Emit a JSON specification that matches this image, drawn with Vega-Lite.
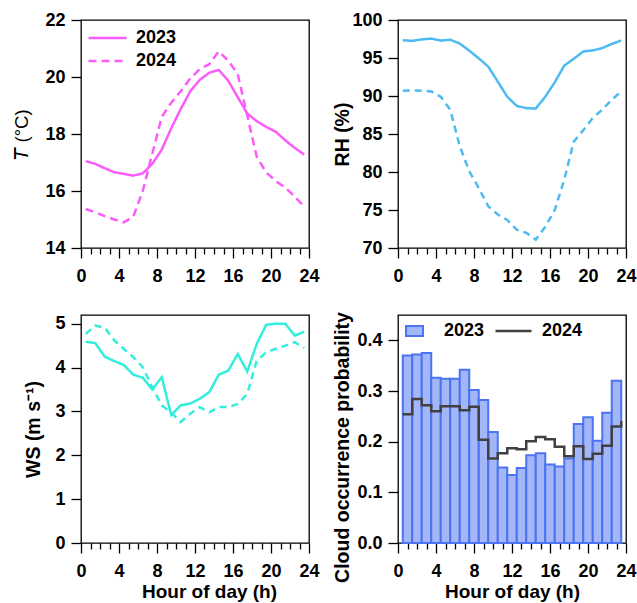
{
  "$schema": "https://vega.github.io/schema/vega-lite/v6.json",
  "background": "white",
  "padding": {"left": 11, "top": 10, "right": 0, "bottom": 0},
  "config": {
    "font": "Liberation Sans",
    "view": {"stroke": "black", "strokeWidth": 1.3},
    "axis": {
      "domain": false, "grid": false,
      "tickColor": "black", "tickWidth": 1.3, "tickSize": 10,
      "labelFont": "Liberation Sans", "labelFontSize": 18, "labelFontWeight": "bold", "labelColor": "black",
      "titleFont": "Liberation Sans", "titleFontSize": 19.5, "titleFontWeight": "bold", "titleColor": "black",
      "labelFlush": false, "labelOverlap": false
    },
    "axisY": {"labelPadding": 6},
    "legend": {"labelFont": "Liberation Sans", "labelFontSize": 18, "labelFontWeight": "bold", "labelColor": "black"}
  },
  "datasets": {
    "met": [
      {"h": 0.5, "yr": "2023", "T": 17.05, "RH": 97.33, "WS": 4.59},
      {"h": 1.5, "yr": "2023", "T": 16.95, "RH": 97.25, "WS": 4.56},
      {"h": 2.5, "yr": "2023", "T": 16.8, "RH": 97.45, "WS": 4.25},
      {"h": 3.5, "yr": "2023", "T": 16.66, "RH": 97.55, "WS": 4.15},
      {"h": 4.5, "yr": "2023", "T": 16.6, "RH": 97.3, "WS": 4.06},
      {"h": 5.5, "yr": "2023", "T": 16.54, "RH": 97.4, "WS": 3.84},
      {"h": 6.5, "yr": "2023", "T": 16.62, "RH": 96.9, "WS": 3.77},
      {"h": 7.5, "yr": "2023", "T": 16.95, "RH": 95.97, "WS": 3.5},
      {"h": 8.5, "yr": "2023", "T": 17.45, "RH": 94.96, "WS": 3.78},
      {"h": 9.5, "yr": "2023", "T": 18.2, "RH": 93.87, "WS": 2.92},
      {"h": 10.5, "yr": "2023", "T": 18.88, "RH": 91.9, "WS": 3.14},
      {"h": 11.5, "yr": "2023", "T": 19.5, "RH": 89.9, "WS": 3.18},
      {"h": 12.5, "yr": "2023", "T": 19.9, "RH": 88.7, "WS": 3.29},
      {"h": 13.5, "yr": "2023", "T": 20.15, "RH": 88.4, "WS": 3.44},
      {"h": 14.5, "yr": "2023", "T": 20.25, "RH": 88.35, "WS": 3.84},
      {"h": 15.5, "yr": "2023", "T": 19.87, "RH": 89.9, "WS": 3.93},
      {"h": 16.5, "yr": "2023", "T": 19.29, "RH": 91.8, "WS": 4.31},
      {"h": 17.5, "yr": "2023", "T": 18.72, "RH": 94.0, "WS": 3.91},
      {"h": 18.5, "yr": "2023", "T": 18.45, "RH": 94.9, "WS": 4.54},
      {"h": 19.5, "yr": "2023", "T": 18.25, "RH": 95.85, "WS": 4.98},
      {"h": 20.5, "yr": "2023", "T": 18.08, "RH": 96.0, "WS": 5.0},
      {"h": 21.5, "yr": "2023", "T": 17.78, "RH": 96.3, "WS": 5.0},
      {"h": 22.5, "yr": "2023", "T": 17.51, "RH": 96.85, "WS": 4.73},
      {"h": 23.5, "yr": "2023", "T": 17.28, "RH": 97.3, "WS": 4.82},
      {"h": 0.5, "yr": "2024", "T": 15.37, "RH": 90.7, "WS": 4.77},
      {"h": 1.5, "yr": "2024", "T": 15.25, "RH": 90.75, "WS": 4.96},
      {"h": 2.5, "yr": "2024", "T": 15.12, "RH": 90.7, "WS": 4.91},
      {"h": 3.5, "yr": "2024", "T": 15.0, "RH": 90.6, "WS": 4.62},
      {"h": 4.5, "yr": "2024", "T": 14.9, "RH": 89.9, "WS": 4.43},
      {"h": 5.5, "yr": "2024", "T": 15.1, "RH": 88.2, "WS": 4.24},
      {"h": 6.5, "yr": "2024", "T": 16.0, "RH": 83.4, "WS": 4.01},
      {"h": 7.5, "yr": "2024", "T": 17.3, "RH": 80.1, "WS": 3.55},
      {"h": 8.5, "yr": "2024", "T": 18.6, "RH": 77.9, "WS": 3.14},
      {"h": 9.5, "yr": "2024", "T": 19.1, "RH": 75.5, "WS": 2.97},
      {"h": 10.5, "yr": "2024", "T": 19.5, "RH": 74.4, "WS": 2.76},
      {"h": 11.5, "yr": "2024", "T": 19.95, "RH": 73.7, "WS": 2.95},
      {"h": 12.5, "yr": "2024", "T": 20.28, "RH": 72.4, "WS": 3.1},
      {"h": 13.5, "yr": "2024", "T": 20.45, "RH": 72.0, "WS": 2.98},
      {"h": 14.5, "yr": "2024", "T": 20.9, "RH": 71.1, "WS": 3.1},
      {"h": 15.5, "yr": "2024", "T": 20.57, "RH": 72.8, "WS": 3.1},
      {"h": 16.5, "yr": "2024", "T": 20.1, "RH": 75.0, "WS": 3.17},
      {"h": 17.5, "yr": "2024", "T": 18.65, "RH": 79.0, "WS": 3.4},
      {"h": 18.5, "yr": "2024", "T": 17.2, "RH": 84.0, "WS": 4.16},
      {"h": 19.5, "yr": "2024", "T": 16.65, "RH": 85.5, "WS": 4.35},
      {"h": 20.5, "yr": "2024", "T": 16.35, "RH": 87.1, "WS": 4.43},
      {"h": 21.5, "yr": "2024", "T": 16.12, "RH": 88.2, "WS": 4.5},
      {"h": 22.5, "yr": "2024", "T": 15.8, "RH": 89.5, "WS": 4.58},
      {"h": 23.5, "yr": "2024", "T": 15.45, "RH": 90.6, "WS": 4.45}
    ],
    "cloud": [
      {"h0": 0.5, "h1": 1.5, "p": 0.370, "yr": "2023"},
      {"h0": 1.5, "h1": 2.5, "p": 0.372, "yr": "2023"},
      {"h0": 2.5, "h1": 3.5, "p": 0.375, "yr": "2023"},
      {"h0": 3.5, "h1": 4.5, "p": 0.326, "yr": "2023"},
      {"h0": 4.5, "h1": 5.5, "p": 0.324, "yr": "2023"},
      {"h0": 5.5, "h1": 6.5, "p": 0.324, "yr": "2023"},
      {"h0": 6.5, "h1": 7.5, "p": 0.342, "yr": "2023"},
      {"h0": 7.5, "h1": 8.5, "p": 0.302, "yr": "2023"},
      {"h0": 8.5, "h1": 9.5, "p": 0.282, "yr": "2023"},
      {"h0": 9.5, "h1": 10.5, "p": 0.219, "yr": "2023"},
      {"h0": 10.5, "h1": 11.5, "p": 0.149, "yr": "2023"},
      {"h0": 11.5, "h1": 12.5, "p": 0.134, "yr": "2023"},
      {"h0": 12.5, "h1": 13.5, "p": 0.148, "yr": "2023"},
      {"h0": 13.5, "h1": 14.5, "p": 0.173, "yr": "2023"},
      {"h0": 14.5, "h1": 15.5, "p": 0.177, "yr": "2023"},
      {"h0": 15.5, "h1": 16.5, "p": 0.155, "yr": "2023"},
      {"h0": 16.5, "h1": 17.5, "p": 0.151, "yr": "2023"},
      {"h0": 17.5, "h1": 18.5, "p": 0.167, "yr": "2023"},
      {"h0": 18.5, "h1": 19.5, "p": 0.235, "yr": "2023"},
      {"h0": 19.5, "h1": 20.5, "p": 0.248, "yr": "2023"},
      {"h0": 20.5, "h1": 21.5, "p": 0.202, "yr": "2023"},
      {"h0": 21.5, "h1": 22.5, "p": 0.257, "yr": "2023"},
      {"h0": 22.5, "h1": 23.5, "p": 0.320, "yr": "2023"}
    ],
    "cloud24": [
      {"h": 0.5, "p": 0.254, "yr": "2024"},
      {"h": 1.5, "p": 0.284, "yr": "2024"},
      {"h": 2.5, "p": 0.272, "yr": "2024"},
      {"h": 3.5, "p": 0.260, "yr": "2024"},
      {"h": 4.5, "p": 0.270, "yr": "2024"},
      {"h": 5.5, "p": 0.270, "yr": "2024"},
      {"h": 6.5, "p": 0.262, "yr": "2024"},
      {"h": 7.5, "p": 0.269, "yr": "2024"},
      {"h": 8.5, "p": 0.204, "yr": "2024"},
      {"h": 9.5, "p": 0.167, "yr": "2024"},
      {"h": 10.5, "p": 0.177, "yr": "2024"},
      {"h": 11.5, "p": 0.187, "yr": "2024"},
      {"h": 12.5, "p": 0.185, "yr": "2024"},
      {"h": 13.5, "p": 0.201, "yr": "2024"},
      {"h": 14.5, "p": 0.209, "yr": "2024"},
      {"h": 15.5, "p": 0.205, "yr": "2024"},
      {"h": 16.5, "p": 0.190, "yr": "2024"},
      {"h": 17.5, "p": 0.171, "yr": "2024"},
      {"h": 18.5, "p": 0.191, "yr": "2024"},
      {"h": 19.5, "p": 0.166, "yr": "2024"},
      {"h": 20.5, "p": 0.176, "yr": "2024"},
      {"h": 21.5, "p": 0.192, "yr": "2024"},
      {"h": 22.5, "p": 0.230, "yr": "2024"},
      {"h": 23.5, "p": 0.241, "yr": "2024"}
    ]
  },
  "columns": 2,
  "spacing": {"row": 67, "column": 89},
  "bounds": "flush",
  "concat": [
    {
      "width": 228, "height": 228,
      "data": {"name": "met"},
      "mark": {"type": "line", "color": "#fb5bfb", "strokeWidth": 2.5},
      "encoding": {
        "x": {"field": "h", "type": "quantitative", "scale": {"domain": [0, 24], "nice": false, "zero": false},
          "axis": {"values": [0,1,2,3,4,5,6,7,8,9,10,11,12,13,14,15,16,17,18,19,20,21,22,23,24],
            "labelExpr": "datum.value % 4 === 0 ? datum.label : ''",
            "tickSize": {"condition": {"test": "datum.value % 4 === 0", "value": 10}, "value": 6},
            "labelPadding": 9, "title": null}},
        "y": {"field": "T", "type": "quantitative", "scale": {"domain": [14, 22], "nice": false, "zero": false},
          "axis": {"values": [14, 16, 18, 20, 22], "title": "𝘛 (°C)", "titleFontWeight": "normal", "titleFontSize": 18.5, "titleX": -60, "titleBaseline": "middle"}},
        "strokeDash": {"field": "yr", "type": "nominal", "scale": {"domain": ["2023", "2024"], "range": [[1, 0], [8, 5]]},
          "legend": {"orient": "none", "legendX": 6, "legendY": 8.5, "title": null, "symbolType": "stroke", "symbolSize": 1444,
            "symbolStrokeColor": "#fb5bfb", "symbolStrokeWidth": 2.5, "clipHeight": 19, "rowPadding": 4, "labelOffset": 8}}
      }
    },
    {
      "width": 228, "height": 228,
      "data": {"name": "met"},
      "mark": {"type": "line", "color": "#4dbaf2", "strokeWidth": 2.5},
      "encoding": {
        "x": {"field": "h", "type": "quantitative", "scale": {"domain": [0, 24], "nice": false, "zero": false},
          "axis": {"values": [0,1,2,3,4,5,6,7,8,9,10,11,12,13,14,15,16,17,18,19,20,21,22,23,24],
            "labelExpr": "datum.value % 4 === 0 ? datum.label : ''",
            "tickSize": {"condition": {"test": "datum.value % 4 === 0", "value": 10}, "value": 6},
            "labelPadding": 9, "title": null}},
        "y": {"field": "RH", "type": "quantitative", "scale": {"domain": [70, 100], "nice": false, "zero": false},
          "axis": {"values": [70, 75, 80, 85, 90, 95, 100], "title": "RH (%)", "titleX": -56, "titleBaseline": "middle"}},
        "strokeDash": {"field": "yr", "type": "nominal", "scale": {"domain": ["2023", "2024"], "range": [[1, 0], [7, 5]]}, "legend": null}
      }
    },
    {
      "width": 228, "height": 228,
      "data": {"name": "met"},
      "mark": {"type": "line", "color": "#33eedd", "strokeWidth": 2.5},
      "encoding": {
        "x": {"field": "h", "type": "quantitative", "scale": {"domain": [0, 24], "nice": false, "zero": false},
          "axis": {"values": [0,1,2,3,4,5,6,7,8,9,10,11,12,13,14,15,16,17,18,19,20,21,22,23,24],
            "labelExpr": "datum.value % 4 === 0 ? datum.label : ''",
            "tickSize": {"condition": {"test": "datum.value % 4 === 0", "value": 10}, "value": 6},
            "labelPadding": 9, "title": "Hour of day (h)", "titleFontSize": 19, "titleX": 128, "titleY": 48.5, "titleBaseline": "middle"}},
        "y": {"field": "WS", "type": "quantitative", "scale": {"domain": [0, 5.2], "nice": false, "zero": false},
          "axis": {"values": [0, 1, 2, 3, 4, 5], "title": "WS (m s⁻¹)", "titleX": -48, "titleBaseline": "middle"}},
        "strokeDash": {"field": "yr", "type": "nominal", "scale": {"domain": ["2023", "2024"], "range": [[1, 0], [7, 5]]}, "legend": null}
      }
    },
    {
      "width": 228, "height": 228,
      "layer": [
        {
          "data": {"name": "cloud"},
          "mark": {"type": "bar", "stroke": "#4b73f2", "strokeWidth": 2},
          "encoding": {
            "x": {"field": "h0", "type": "quantitative", "scale": {"domain": [0, 24], "nice": false, "zero": false},
              "axis": {"values": [0,1,2,3,4,5,6,7,8,9,10,11,12,13,14,15,16,17,18,19,20,21,22,23,24],
                "labelExpr": "datum.value % 4 === 0 ? datum.label : ''",
                "tickSize": {"condition": {"test": "datum.value % 4 === 0", "value": 10}, "value": 6},
                "labelOverlap": false,
                "labelPadding": 9, "title": "Hour of day (h)", "titleFontSize": 19, "titleX": 114, "titleY": 48.5, "titleBaseline": "middle"}},
            "x2": {"field": "h1"},
            "y": {"field": "p", "type": "quantitative", "scale": {"domain": [0, 0.45], "nice": false, "zero": false},
              "axis": {"values": [0, 0.1, 0.2, 0.3, 0.4], "format": ".1f", "title": "Cloud occurrence probability", "titleX": -56, "titleY": 132, "titleBaseline": "middle"}},
            "y2": {"datum": 0},
            "fill": {"field": "yr", "type": "nominal", "scale": {"domain": ["2023"], "range": ["#a3b6f7"]},
              "legend": {"orient": "none", "legendX": 7, "legendY": 6.5, "title": null, "symbolType": "M-1,-0.6H1V0.6H-1Z", "symbolSize": 289,
                "symbolStrokeColor": "#4b73f2", "symbolStrokeWidth": 2, "symbolFillColor": "#a3b6f7", "clipHeight": 19, "labelOffset": 20}}
          }
        },
        {
          "data": {"name": "cloud24"},
          "mark": {"type": "line", "interpolate": "step-after", "strokeWidth": 2.5},
          "encoding": {
            "x": {"field": "h", "type": "quantitative",
              "axis": {"values": [0,1,2,3,4,5,6,7,8,9,10,11,12,13,14,15,16,17,18,19,20,21,22,23,24],
                "labelExpr": "datum.value % 4 === 0 ? datum.label : ''",
                "tickSize": {"condition": {"test": "datum.value % 4 === 0", "value": 10}, "value": 6},
                "labelOverlap": false,
                "labelPadding": 9, "title": "Hour of day (h)", "titleFontSize": 19, "titleX": 114, "titleY": 48.5, "titleBaseline": "middle"}},
            "y": {"field": "p", "type": "quantitative"},
            "stroke": {"field": "yr", "type": "nominal", "scale": {"domain": ["2024"], "range": ["#404040"]},
              "legend": {"orient": "none", "legendX": 96, "legendY": 6.5, "title": null, "symbolType": "stroke", "symbolSize": 1296,
                "symbolStrokeWidth": 2.5, "clipHeight": 19, "labelOffset": 9}}
          }
        }
      ]
    }
  ],
  "resolve": {
    "scale": {"x": "independent", "y": "independent", "strokeDash": "independent", "fill": "independent", "stroke": "independent"},
    "legend": {"strokeDash": "independent", "fill": "independent", "stroke": "independent"}
  }
}
